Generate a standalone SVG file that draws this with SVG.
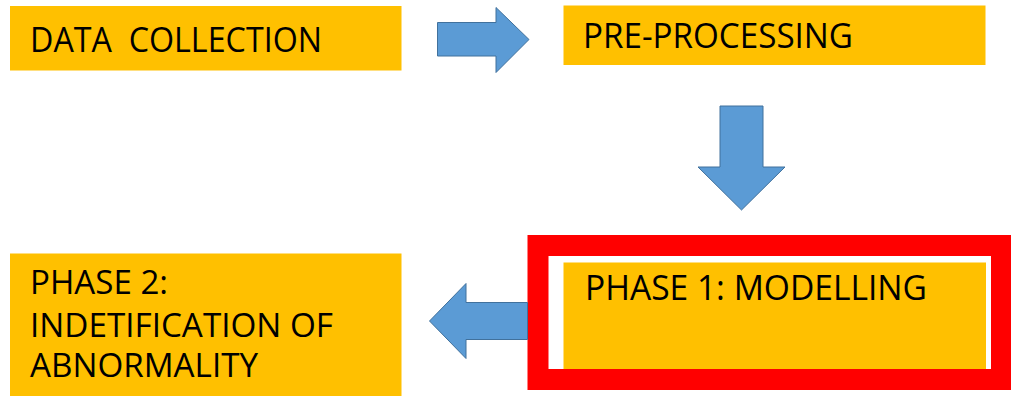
<svg xmlns="http://www.w3.org/2000/svg" width="1011" height="396" viewBox="0 0 1011 396">
  <style>
    .box { fill: #FFC000; }
    .lbl { font-family: "Open Sans", "Liberation Sans", sans-serif; font-size: 34px; fill: #000000; }
    .lbl2 { font-family: "Open Sans", "Liberation Sans", sans-serif; font-size: 32px; fill: #000000; }
    .arrow { fill: #5B9BD5; stroke: #41719C; stroke-width: 1; }
    .frame { fill: none; stroke: #FF0000; stroke-width: 21; }
  </style>
  <rect x="0" y="0" width="1011" height="396" fill="#FFFFFF"/>
  <g id="data-collection">
    <rect class="box" x="10" y="6" width="391.5" height="64.5"/>
    <text class="lbl" x="30" y="51.5" xml:space="preserve" textLength="292" lengthAdjust="spacingAndGlyphs">DATA  COLLECTION</text>
  </g>
  <g id="pre-processing">
    <rect class="box" x="563.5" y="5.5" width="422" height="59.5"/>
    <text class="lbl" x="583" y="47.5" textLength="270" lengthAdjust="spacingAndGlyphs">PRE-PROCESSING</text>
  </g>
  <g id="phase1-modelling">
    <rect class="frame" x="538" y="245.5" width="463.5" height="134"/>
    <rect class="box" x="563.5" y="262.5" width="422.5" height="106.5"/>
    <text class="lbl" x="585" y="300" textLength="342" lengthAdjust="spacingAndGlyphs">PHASE 1: MODELLING</text>
  </g>
  <g id="phase2-abnormality">
    <rect class="box" x="10" y="253.5" width="391.5" height="142.5"/>
    <text class="lbl2" x="30" y="294" textLength="138" lengthAdjust="spacingAndGlyphs">PHASE 2:</text>
    <text class="lbl2" x="30" y="336.5" textLength="303" lengthAdjust="spacingAndGlyphs">INDETIFICATION OF</text>
    <text class="lbl2" x="30" y="376.5" textLength="228" lengthAdjust="spacingAndGlyphs">ABNORMALITY</text>
  </g>
  <g id="connectors">
    <polygon class="arrow" points="437.5,22.5 496,22.5 496,7.5 529,39.5 496,72.5 496,56 437.5,56"/>
    <polygon class="arrow" points="720,106 763,106 763,167 785,167 741.5,210 698,167 720,167"/>
    <polygon class="arrow" points="527.5,302.5 466,302.5 466,283.5 429.5,321 466,358.5 466,339.5 527.5,339.5"/>
  </g>
</svg>
